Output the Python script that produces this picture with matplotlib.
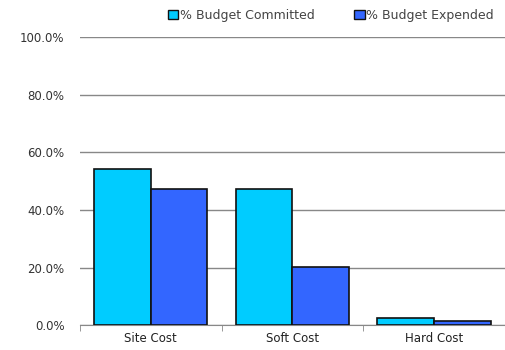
import numpy as np
import matplotlib.pyplot as plt
from matplotlib.patches import Patch
from matplotlib.ticker import PercentFormatter

plt.rcParams["font.family"] = ["DejaVu Sans"]

categories = ["Site Cost", "Soft Cost", "Hard Cost"]
committed = [54.2, 47.2, 2.4]
expended = [47.2, 20.1, 1.5]

fig = plt.figure(figsize=(5.05, 3.5), dpi=100)
ax = fig.add_axes([0.158, 0.071, 0.842, 0.823])

x = np.arange(len(categories))
width = 0.4
ax.bar(x - width/2, committed, width, color="#00ccff", edgecolor="#111111", linewidth=1.2, zorder=3)
ax.bar(x + width/2, expended, width, color="#3366ff", edgecolor="#111111", linewidth=1.2, zorder=3)

ax.set_xlim(-0.5, 2.5)
ax.set_ylim(0, 100)
ax.set_yticks(np.arange(0, 101, 20))
ax.yaxis.set_major_formatter(PercentFormatter(decimals=1))
ax.tick_params(axis="y", length=0, pad=11, labelsize=8.5, colors="#333333")

# category labels centred, tick marks at the category boundaries
ax.set_xticks(x)
ax.set_xticklabels(categories)
ax.set_xticks(np.arange(-0.5, 3.0, 1.0), minor=True)
ax.tick_params(axis="x", which="major", length=0, pad=5, labelsize=8.5, colors="#222222")
ax.tick_params(axis="x", which="minor", length=4, color="#888888")

ax.grid(True, axis="y", color="#888888", linewidth=1.0, zorder=0)
for side in ["left", "right", "top"]:
    ax.spines[side].set_visible(False)
ax.spines["bottom"].set_color("#888888")

handles = [Patch(facecolor="#00ccff", edgecolor="#111111", label="% Budget Committed"),
           Patch(facecolor="#3366ff", edgecolor="#111111", label="% Budget Expended")]
fig.legend(handles=handles, loc="center right", bbox_to_anchor=(0.978, 0.955), ncol=2,
           frameon=False, fontsize=9, handlelength=0.85, handleheight=0.75,
           handletextpad=0.1, columnspacing=3.2, borderpad=0, borderaxespad=0,
           labelcolor="#444444")

fig.savefig("out.png", dpi=100)
